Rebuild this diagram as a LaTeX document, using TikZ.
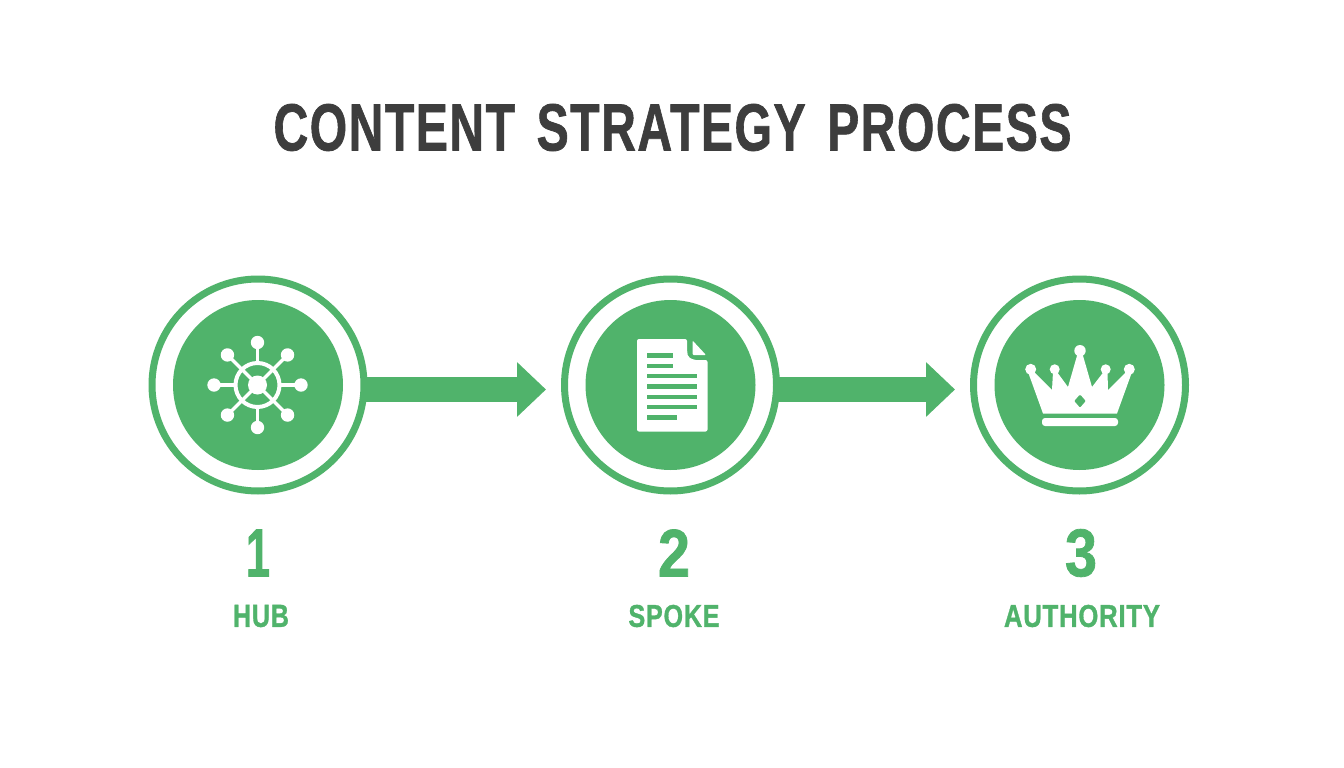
\documentclass[tikz,border=0pt]{standalone}
\usepackage{fontspec}
\setmainfont{Liberation Sans}
\newfontfamily\heavyfont[FakeBold=1.2,LetterSpace=3,WordSpace=1.45]{Liberation Sans Bold}
\usetikzlibrary{arrows.meta,calc}
\definecolor{brandgreen}{HTML}{50B36B}
\definecolor{titlegray}{HTML}{3D3D3D}
\newcommand{\fittext}[3]{\resizebox{#1pt}{#2pt}{\heavyfont #3}}
\tikzset{
  ring/.style={circle,draw=brandgreen,line width=7pt,fill=white,minimum size=212pt,inner sep=0pt,outer sep=0pt},
  disc/.style={circle,fill=brandgreen,minimum size=170pt,inner sep=0pt},
  flow/.style={draw=brandgreen,line width=25pt,-{Triangle[length=29pt,width=53pt]}},
  lbl/.style={text=brandgreen,inner sep=0pt,anchor=center},
  iconline/.style={draw=white,line width=3.2pt},
}
\begin{document}
\begin{tikzpicture}[x=1pt,y=-1pt]
\useasboundingbox (0,0) rectangle (1344,768);
\fill[white] (0,0) rectangle (1344,768);
\node[text=titlegray,inner sep=0pt] (title) at (672.5,127.5) {\fittext{798}{46.5}{CONTENT STRATEGY PROCESS}};
\coordinate (t1) at (546,389.5);
\coordinate (t2) at (955,389.5);
\node[ring] (r1) at (258,385) {};
\node[ring] (r2) at (670.5,385) {};
\node[ring] (r3) at (1079.5,385) {};
\draw[flow] (r1.east |- t1) -- (t1);
\draw[flow] (r2.east |- t2) -- (t2);
\node[disc] (d1) at (r1) {};
\node[disc] (d2) at (r2) {};
\node[disc] (d3) at (r3) {};
% hub icon
\begin{scope}[shift={(257.5,385)}]
\draw[draw=white,line width=4pt] (0,0) circle (22);
\foreach \a in {45,135,225,315}{
  \draw[iconline] (0,0) -- (\a:38);
}
\foreach \a in {0,90,180,270}{
  \draw[iconline] (\a:22) -- (\a:38);
}
\foreach \a/\r in {0/43.5,90/42.5,180/43.5,270/42.5,45/42.5,135/42.5,225/42.5,315/42.5}{
  \fill[white] (\a:\r) circle (6.7);
}
\fill[white] (0,0) circle (9.5);
\end{scope}
% document icon
\begin{scope}[shift={(600,310)}]
\fill[white,rounded corners=2pt] (37,29) -- (87,29) -- (87,40) -- (88,47) -- (94,50) -- (107.5,50) -- (107.5,121.5) -- (37,121.5) -- cycle;
\fill[white,rounded corners=1pt] (92.5,30.5) -- (106,45) -- (92.5,45) -- cycle;
\fill[brandgreen] (47,43) rectangle (73,47.5);
\fill[brandgreen] (47,53.5) rectangle (73,58);
\foreach \y in {63.5,74,84.5,94.5}{\fill[brandgreen] (47,\y) rectangle (97,\y+4.5);}
\fill[brandgreen] (47,105) rectangle (77,109.5);
\end{scope}
% crown icon
\begin{scope}[shift={(1010,330)}]
\fill[white] (18,42) -- (23,41) -- (42,60) -- (43,42) -- (47,42) -- (58,57) -- (67.5,24) -- (72.5,24) -- (82,57) -- (93.5,42) -- (97.5,42) -- (98,60) -- (117,41) -- (122,42) -- (107,83.5) -- (33,83.5) -- cycle;
\foreach \x/\y/\r in {20.7/39.3/5.5,44.7/39.3/5,70/20.7/5.7,95.7/39.3/5,119.3/39.3/5.5}{\fill[white] (\x,\y) circle (\r);}
\fill[brandgreen,rounded corners=1pt] (70,64.5) -- (75.7,71) -- (70,77.5) -- (64.3,71) -- cycle;
\fill[white,rounded corners=3pt] (32,88) rectangle (108,96);
\end{scope}
% labels
\node[lbl] (n1) at (258,553) {\fittext{24}{47}{1}};
\node[lbl] (n2) at (674,553) {\fittext{32}{47}{2}};
\node[lbl] (n3) at (1081,553) {\fittext{32}{47}{3}};
\node[lbl] (l1) at (261,616) {\fittext{56}{22}{HUB}};
\node[lbl] (l2) at (674,616) {\fittext{91}{22}{SPOKE}};
\node[lbl] (l3) at (1082,616) {\fittext{156}{22}{AUTHORITY}};
\end{tikzpicture}
\end{document}
